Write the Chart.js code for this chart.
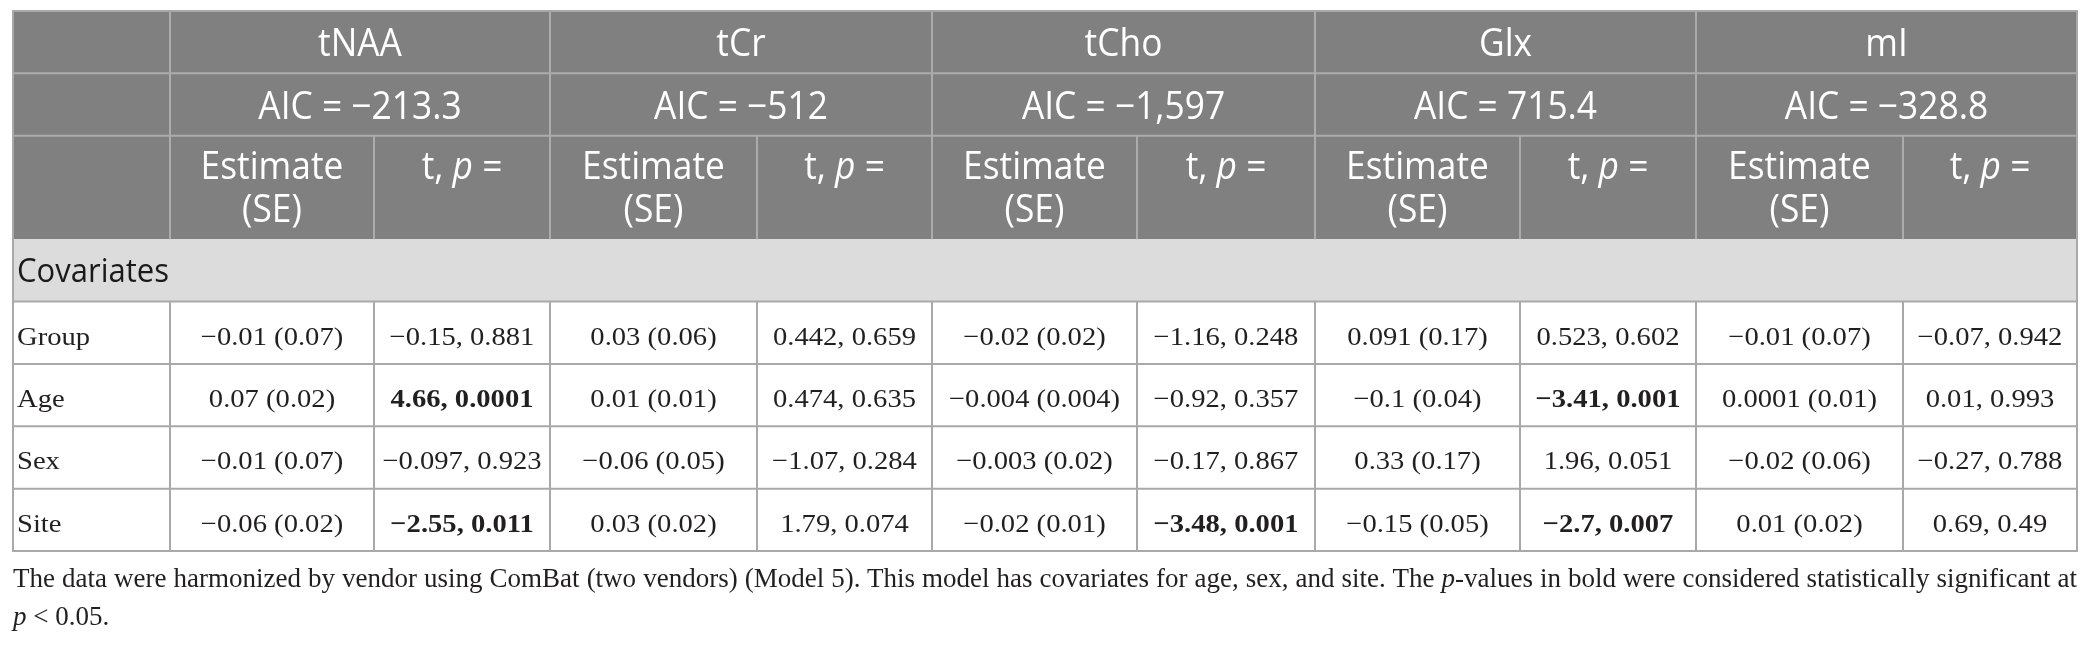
<!DOCTYPE html>
<html>
<head>
<meta charset="utf-8">
<title>Model 5 covariates</title>
<script src="https://cdn.jsdelivr.net/npm/chart.js@4.4.1/dist/chart.umd.min.js"></script>
<style>
    html, body { margin: 0; padding: 0; background: #fff; }
    #wrap { position: relative; width: 2090px; height: 648px; overflow: hidden; }
    #table { position: absolute; left: 0; top: 0; }
    .note {
        position: absolute; left: 13px; width: 2064px;
        font-family: "Liberation Serif", "Times New Roman", serif;
        font-size: 27px; line-height: 38px; color: #231f20;
    }
    #note1 { top: 559px; text-align: justify; text-align-last: justify; }
    #note2 { top: 597px; }
</style>
</head>
<body>
<div id="wrap">
    <canvas id="table" width="2090" height="560"></canvas>
    <div class="note" id="note1">The data were harmonized by vendor using ComBat (two vendors) (Model 5). This model has covariates for age, sex, and site. The <i>p</i>-values in bold were considered statistically significant at</div>
    <div class="note" id="note2"><i>p</i> &lt; 0.05.</div>
</div>
<script>
// table content
const metabolites = ["tNAA", "tCr", "tCho", "Glx", "mI"];
const aicValues = [-213.3, -512, -1597, 715.4, -328.8];
const subHeaders = ["Estimate", "(SE)"];
const sectionLabel = "Covariates";
const covariates = ["Group", "Age", "Sex", "Site"];

// rows = covariates, columns = metabolites
const estimates = [
    [-0.01, 0.03, -0.02, 0.091, -0.01],
    [0.07, 0.01, -0.004, -0.1, 0.0001],
    [-0.01, -0.06, -0.003, 0.33, -0.02],
    [-0.06, 0.03, -0.02, -0.15, 0.01],
];
const stdErrors = [
    [0.07, 0.06, 0.02, 0.17, 0.07],
    [0.02, 0.01, 0.004, 0.04, 0.01],
    [0.07, 0.05, 0.02, 0.17, 0.06],
    [0.02, 0.02, 0.01, 0.05, 0.02],
];
const tValues = [
    [-0.15, 0.442, -1.16, 0.523, -0.07],
    [4.66, 0.474, -0.92, -3.41, 0.01],
    [-0.097, -1.07, -0.17, 1.96, -0.27],
    [-2.55, 1.79, -3.48, -2.7, 0.69],
];
const pValues = [
    [0.881, 0.659, 0.248, 0.602, 0.942],
    [0.0001, 0.635, 0.357, 0.001, 0.993],
    [0.923, 0.284, 0.867, 0.051, 0.788],
    [0.011, 0.074, 0.001, 0.007, 0.49],
];
const alpha = 0.05;

// layout: column and row edges in scale units
const colEdges = [0, 157, 361, 537, 744, 919, 1124, 1302, 1507, 1683, 1890, 2064];
const rowEdges = [0, 1, 2, 3.66, 4.66, 5.66, 6.66, 7.66, 8.66];

const SANS = '"Open Sans", "Noto Sans", sans-serif';
const SERIF = '"Liberation Serif", "Times New Roman", serif';
const HEAD_FONT = `38px ${SANS}`;
const HEAD_ITALIC = `italic 38px ${SANS}`;
const HEAD_SX = 0.93;
const BODY_SX = 1.1;

const fmt = (v) => (v < 0 ? "\u2212" : "") +
    Math.abs(v).toLocaleString("en-US", { maximumFractionDigits: 6 });

// draw a list of text runs (each with its own font), horizontally scaled
const drawRuns = (ctx, runs, x, baseline, sx, align) => {
    let total = 0;
    runs.forEach((r) => { ctx.font = r.font; total += ctx.measureText(r.text).width; });
    let start = x;
    if (align === "center") start = x - (total * sx) / 2;
    ctx.save();
    ctx.translate(start, baseline);
    ctx.scale(sx, 1);
    ctx.textAlign = "left";
    let pos = 0;
    runs.forEach((r) => {
        ctx.font = r.font;
        ctx.fillText(r.text, pos, 0);
        pos += ctx.measureText(r.text).width;
    });
    ctx.restore();
};
const drawText = (ctx, text, font, x, baseline, sx, align) =>
    drawRuns(ctx, [{ text, font }], x, baseline, sx, align);

const tablePlugin = {
    id: "tableCells",
    afterDraw(chart) {
        const { ctx } = chart;
        const px = (v) => chart.scales.x.getPixelForValue(v);
        const py = (v) => chart.scales.y.getPixelForValue(v);
        const left = px(colEdges[0]);
        const right = px(colEdges[colEdges.length - 1]);
        const top = py(rowEdges[0]);
        const bottom = py(rowEdges[rowEdges.length - 1]);
        const rowTop = (i) => py(rowEdges[i]);
        const rowH = (i) => py(rowEdges[i + 1]) - py(rowEdges[i]);
        const line = (x1, y1, x2, y2, color) => {
            ctx.strokeStyle = color;
            ctx.lineWidth = 2;
            ctx.beginPath();
            ctx.moveTo(x1, y1);
            ctx.lineTo(x2, y2);
            ctx.stroke();
        };

        ctx.save();
        ctx.textBaseline = "alphabetic";

        // backgrounds
        ctx.fillStyle = "#808080";
        ctx.fillRect(left, top, right - left, rowTop(3) - top);
        ctx.fillStyle = "#dcdcdc";
        ctx.fillRect(left, rowTop(3), right - left, rowH(3));

        // header grid
        const headLine = "#acacac";
        line(left, rowTop(1), right, rowTop(1), headLine);
        line(left, rowTop(2), right, rowTop(2), headLine);
        line(px(colEdges[1]), top, px(colEdges[1]), rowTop(3), headLine);
        metabolites.forEach((m, k) => {
            const gx = px(colEdges[3 + 2 * k]);
            if (k < metabolites.length - 1) line(gx, top, gx, rowTop(3), headLine);
            const sx = px(colEdges[2 + 2 * k]);
            line(sx, rowTop(2), sx, rowTop(3), headLine);
        });

        // body grid
        const bodyLine = "#a9a9a9";
        for (let i = 4; i < rowEdges.length - 1; i++) {
            line(left, rowTop(i), right, rowTop(i), bodyLine);
        }
        for (let c = 1; c < colEdges.length - 1; c++) {
            line(px(colEdges[c]), rowTop(4), px(colEdges[c]), bottom, bodyLine);
        }
        ctx.strokeStyle = bodyLine;
        ctx.lineWidth = 2;
        ctx.strokeRect(left, top, right - left, bottom - top);

        // header text
        ctx.fillStyle = "#ffffff";
        metabolites.forEach((m, k) => {
            const gx1 = px(colEdges[1 + 2 * k]);
            const gmid = px(colEdges[2 + 2 * k]);
            const gx2 = px(colEdges[3 + 2 * k]);
            drawText(ctx, m, HEAD_FONT, (gx1 + gx2) / 2, rowTop(0) + rowH(0) / 2 + 14, HEAD_SX, "center");
            drawText(ctx, "AIC = " + fmt(aicValues[k]), HEAD_FONT, (gx1 + gx2) / 2,
                rowTop(1) + rowH(1) / 2 + 14, HEAD_SX, "center");
            drawText(ctx, subHeaders[0], HEAD_FONT, (gx1 + gmid) / 2, rowTop(2) + 43.5, HEAD_SX, "center");
            drawText(ctx, subHeaders[1], HEAD_FONT, (gx1 + gmid) / 2, rowTop(2) + 86.5, HEAD_SX, "center");
            drawRuns(ctx, [
                { text: "t, ", font: HEAD_FONT },
                { text: "p", font: HEAD_ITALIC },
                { text: " =", font: HEAD_FONT },
            ], (gmid + gx2) / 2, rowTop(2) + 43.5, HEAD_SX, "center");
        });

        // section row
        ctx.fillStyle = "#1a1a1a";
        drawText(ctx, sectionLabel, `32px ${SANS}`, left + 4, rowTop(3) + rowH(3) / 2 + 12, 0.97, "left");

        // body rows
        ctx.fillStyle = "#231f20";
        const bodyFont = `26px ${SERIF}`;
        const bodyBold = `bold 26px ${SERIF}`;
        covariates.forEach((cov, r) => {
            const ri = 4 + r;
            const base = rowTop(ri) + rowH(ri) / 2 + 12;
            drawText(ctx, cov, bodyFont, left + 4, base, BODY_SX, "left");
            metabolites.forEach((m, k) => {
                const c1 = px(colEdges[1 + 2 * k]);
                const c2 = px(colEdges[2 + 2 * k]);
                const c3 = px(colEdges[3 + 2 * k]);
                drawText(ctx, `${fmt(estimates[r][k])} (${fmt(stdErrors[r][k])})`, bodyFont,
                    (c1 + c2) / 2, base, BODY_SX, "center");
                const bold = pValues[r][k] < alpha;
                drawText(ctx, `${fmt(tValues[r][k])}, ${fmt(pValues[r][k])}`, bold ? bodyBold : bodyFont,
                    (c2 + c3) / 2, base, BODY_SX, "center");
            });
        });

        ctx.restore();
    },
};

const chart = new Chart(document.getElementById("table"), {
    type: "scatter",
    data: { datasets: [{ data: [], pointRadius: 0 }] },
    options: {
        responsive: false,
        animation: false,
        devicePixelRatio: 1,
        events: [],
        layout: { padding: { left: 13, right: 13, top: 11, bottom: 9 } },
        plugins: { legend: { display: false }, tooltip: { enabled: false } },
        scales: {
            x: { type: "linear", min: 0, max: colEdges[colEdges.length - 1], display: false },
            y: { type: "linear", min: 0, max: rowEdges[rowEdges.length - 1], reverse: true, display: false },
        },
    },
    plugins: [tablePlugin],
});
</script>
</body>
</html>
